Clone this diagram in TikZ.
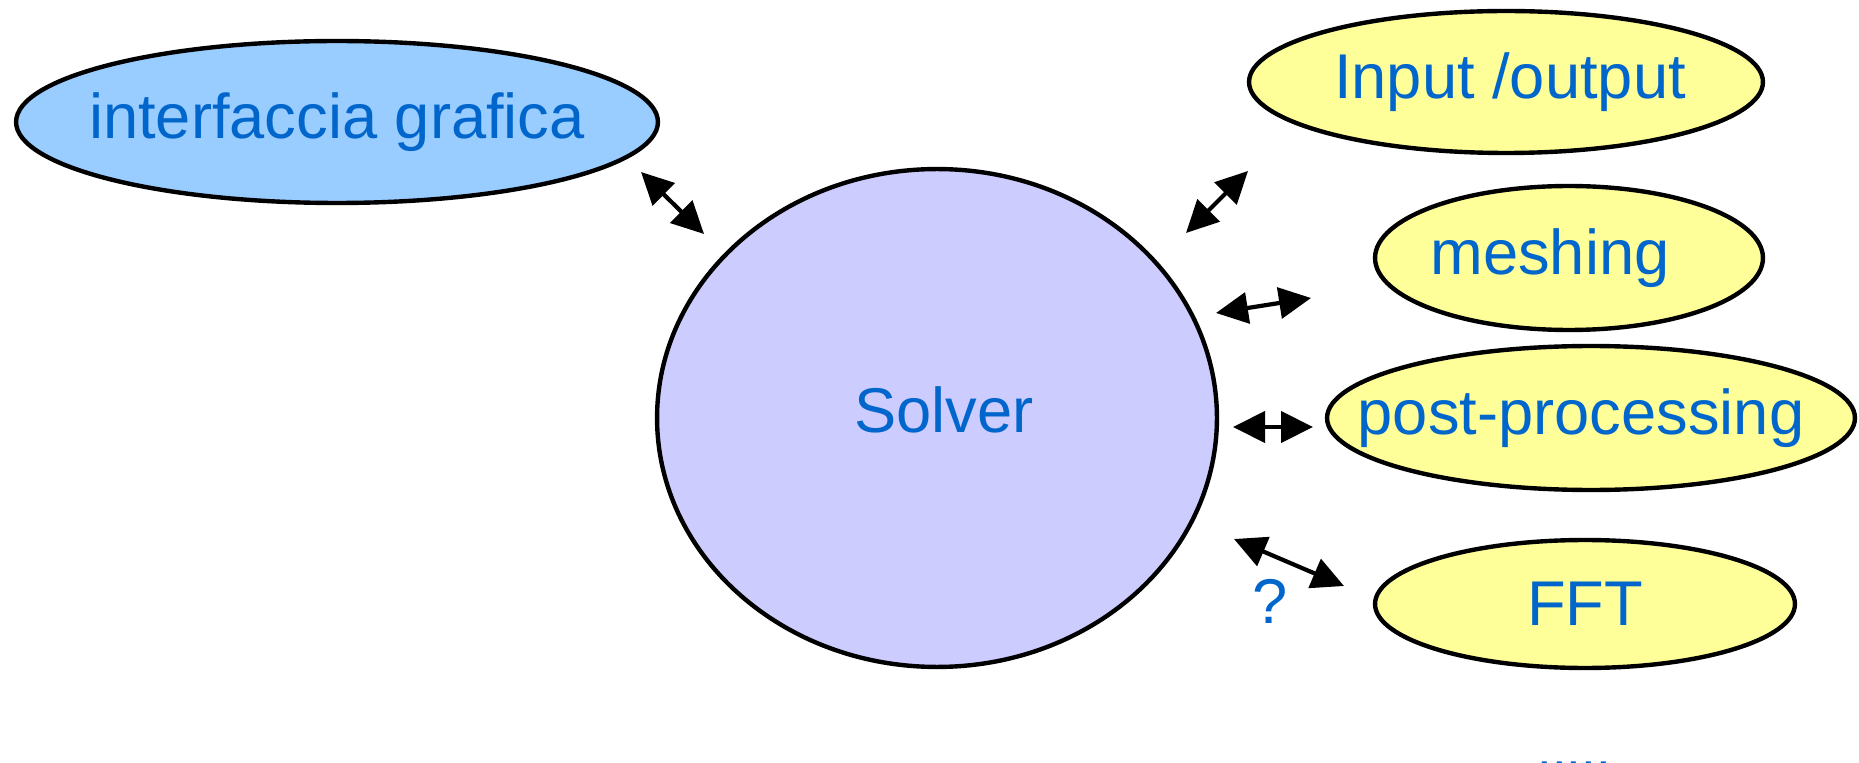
\documentclass[tikz,border=0pt]{standalone}
\usepackage{fontspec}
\setmainfont{Liberation Sans}
\usetikzlibrary{shapes.geometric, arrows.meta}
\definecolor{textblue}{HTML}{0066CC}
\definecolor{guiblue}{HTML}{99CCFF}
\definecolor{solverlilac}{HTML}{CCCCFF}
\definecolor{moduleyellow}{HTML}{FFFF99}

\begin{document}
\begin{tikzpicture}[x=0.02cm, y=-0.02cm]
    % --- Styles ---
    \tikzstyle{blob}=[draw=black, line width=2.5pt, ellipse, inner sep=0pt]
    \tikzstyle{gui}=[blob, fill=guiblue]
    \tikzstyle{core}=[blob, fill=solverlilac]
    \tikzstyle{module}=[blob, fill=moduleyellow]
    % text sits in a center label so it does not widen the ellipse
    \tikzstyle{tag}=[text=textblue, font=\fontsize{36}{40}\selectfont, inner sep=0pt]
    \tikzstyle{note}=[text=textblue, font=\fontsize{36}{40}\selectfont]
    \tikzstyle{link}=[line width=2.4pt, {Triangle[length=0.64cm,width=0.62cm]}-{Triangle[length=0.64cm,width=0.62cm]}]

    \useasboundingbox (0,0) rectangle (1859,763);

    % --- 1. Solver in the middle, GUI on the left ---
    \node[core, minimum width=11.2cm, minimum height=9.96cm,
          label={[tag, xshift=0.14cm, yshift=0.16cm]center:Solver}] (solver) at (937,418) {};
    \node[gui, minimum width=12.84cm, minimum height=3.24cm,
          label={[tag]center:interfaccia grafica}] (gui) at (337,122) {};

    % --- 2. Modules on the right ---
    \node[module, minimum width=10.28cm, minimum height=2.84cm,
          label={[tag, xshift=0.08cm]center:Input /output}] (io) at (1506,82) {};
    \node[module, minimum width=7.76cm, minimum height=2.88cm,
          label={[tag, xshift=-0.38cm]center:meshing}] (mesh) at (1569,258) {};
    \node[module, minimum width=10.56cm, minimum height=2.88cm,
          label={[tag, xshift=-0.2cm]center:post-processing}] (post) at (1591,418) {};
    \node[module, minimum width=8.4cm, minimum height=2.56cm,
          label={[tag]center:FFT}] (fft) at (1585,604) {};

    % --- 3. Links (free-floating double arrows) ---
    \coordinate (gui-end) at (641,172);
    \coordinate (gui-solver) at (704,234);
    \coordinate (io-solver) at (1186,233);
    \coordinate (io-end) at (1248,171);
    \coordinate (mesh-solver) at (1216,313);
    \coordinate (mesh-end) at (1311,298);
    \coordinate (post-solver) at (1233,427);
    \coordinate (post-end) at (1313,427);
    \coordinate (fft-solver) at (1234,539);
    \coordinate (fft-end) at (1344,586);

    \draw[link] (gui-end) -- (gui-solver);
    \draw[link] (io-solver) -- (io-end);
    \draw[link] (mesh-solver) -- (mesh-end);
    \draw[link] (post-solver) -- (post-end);
    \draw[link] (fft-solver) -- (fft-end);

    % --- 4. Notes ---
    \node[note, inner sep=0pt] (query) at (1270,601) {?};
    \node[note, anchor=base, font=\fontsize{30}{34}\selectfont] (more) at (1574,767) {.....};

\end{tikzpicture}
\end{document}
